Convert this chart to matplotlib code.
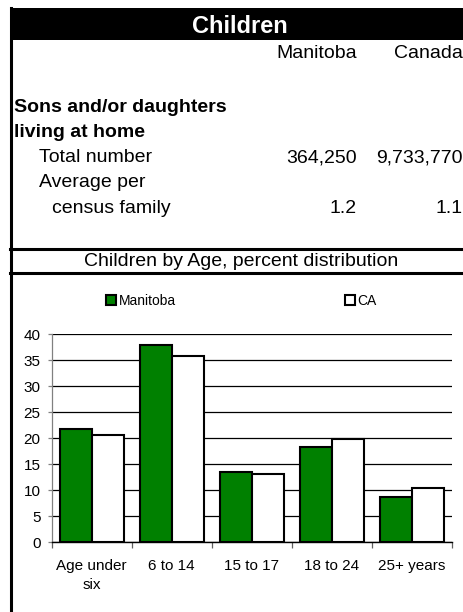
import matplotlib
matplotlib.use('Agg')
import matplotlib.pyplot as plt
from matplotlib.patches import Rectangle, Patch
from matplotlib.lines import Line2D

# ---- data ----
categories = ["Age under\nsix", "6 to 14", "15 to 17", "18 to 24", "25+ years"]
manitoba = [21.8, 38.0, 13.4, 18.3, 8.6]
canada = [20.7, 35.9, 13.0, 19.8, 10.4]
series_names = ["Manitoba", "CA"]
yticks = [0, 5, 10, 15, 20, 25, 30, 35, 40]

header_title = "Children"
col_headers = ["Manitoba", "Canada"]
total_number = ["364,250", "9,733,770"]
avg_per_family = ["1.2", "1.1"]
chart_title = "Children by Age, percent distribution"

plt.rcParams['font.family'] = ['Liberation Sans', 'DejaVu Sans']

W, H = 464, 612
fig = plt.figure(figsize=(W / 100, H / 100), dpi=100)


def fx(px):
    return px / W


def fy(py):
    return 1 - py / H


# ---- frame elements ----
fig.patches.append(Rectangle((fx(10), fy(40)), fx(W) - fx(10), fy(8) - fy(40),
                             transform=fig.transFigure, facecolor='black',
                             edgecolor='none', zorder=1))
fig.add_artist(Line2D([fx(11.5), fx(11.5)], [fy(8), fy(H)], color='black', lw=2.2,
                      transform=fig.transFigure))
fig.add_artist(Line2D([fx(10), fx(W)], [fy(248.5), fy(248.5)], color='black', lw=2.2,
                      transform=fig.transFigure))
fig.add_artist(Line2D([fx(10), fx(W)], [fy(273), fy(273)], color='black', lw=2.2,
                      transform=fig.transFigure))

# ---- table text ----
fs = 14
c1, c2 = 357, 462.5
fig.text(fx(240), fy(32.7), header_title, color='white', fontsize=17, fontweight='bold',
         ha='center', va='baseline')
fig.text(fx(c1), fy(58.3), col_headers[0], fontsize=fs, ha='right', va='baseline')
fig.text(fx(c2), fy(58.3), col_headers[1], fontsize=fs, ha='right', va='baseline')
fig.text(fx(14), fy(112), "Sons and/or daughters", fontsize=fs, fontweight='bold',
         ha='left', va='baseline')
fig.text(fx(14), fy(136.7), "living at home", fontsize=fs, fontweight='bold',
         ha='left', va='baseline')
fig.text(fx(39), fy(162.3), "Total number", fontsize=fs, ha='left', va='baseline')
fig.text(fx(c1), fy(162.3), total_number[0], fontsize=fs, ha='right', va='baseline')
fig.text(fx(c2), fy(162.3), total_number[1], fontsize=fs, ha='right', va='baseline')
fig.text(fx(39), fy(186.7), "Average per", fontsize=fs, ha='left', va='baseline')
fig.text(fx(52), fy(213.3), "census family", fontsize=fs, ha='left', va='baseline')
fig.text(fx(c1), fy(213.3), avg_per_family[0], fontsize=fs, ha='right', va='baseline')
fig.text(fx(c2), fy(213.3), avg_per_family[1], fontsize=fs, ha='right', va='baseline')

fig.text(fx(241.5), fy(266), chart_title, fontsize=fs, ha='center', va='baseline')

# ---- chart ----
ax_l, ax_r, ax_t, ax_b = 51.7, 451.7, 334.3, 542
ax = fig.add_axes([fx(ax_l), fy(ax_b), fx(ax_r) - fx(ax_l), fy(ax_t) - fy(ax_b)])
x = list(range(len(categories)))
green = '#008000'
ax.bar([i - 0.4 for i in x], manitoba, width=0.4, align='edge', color=green,
       edgecolor='black', linewidth=1.5, zorder=3)
ax.bar(x, canada, width=0.4, align='edge', color='white',
       edgecolor='black', linewidth=1.5, zorder=3)
ax.set_xlim(-0.5, len(categories) - 0.5)
ax.set_ylim(0, 40)
ax.set_yticks(yticks)
ax.yaxis.grid(True, color='black', linewidth=0.9, zorder=0)
ax.set_axisbelow(True)
for s in ['top', 'right']:
    ax.spines[s].set_visible(False)
ax.spines['left'].set_color('#808080')
ax.spines['left'].set_linewidth(0.9)
ax.spines['bottom'].set_color('black')
ax.spines['bottom'].set_linewidth(1.0)
ax.set_xticks(x)
ax.set_xticklabels(categories, fontsize=11, linespacing=1.45)
ax.set_xticks([i - 0.5 for i in range(len(categories) + 1)], minor=True)
ax.tick_params(axis='x', which='major', length=0, pad=12)
ax.tick_params(axis='x', which='minor', length=4, width=0.9, color='#606060', direction='out')
ax.tick_params(axis='y', length=3, width=0.9, color='#808080', pad=5, labelsize=11)

handles = [Patch(facecolor=green, edgecolor='black', linewidth=1.5),
           Patch(facecolor='white', edgecolor='black', linewidth=1.5)]
leg = fig.legend(handles, series_names, ncol=2, frameon=False, fontsize=10,
                 loc='center left', bbox_to_anchor=(fx(106), fy(301)),
                 handlelength=0.7, handleheight=0.7, handletextpad=0.2,
                 columnspacing=12.2, borderpad=0, borderaxespad=0)

fig.savefig('out.png', dpi=100)
